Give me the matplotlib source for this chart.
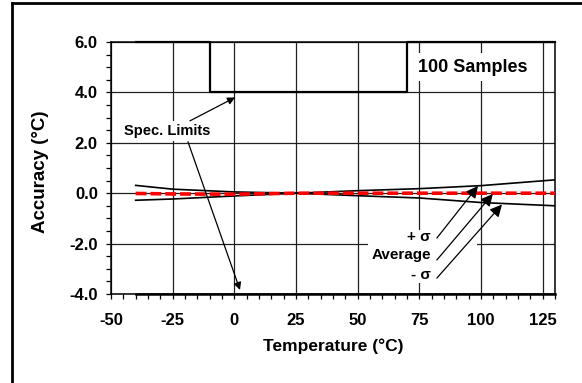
import matplotlib
matplotlib.use("Agg")
import matplotlib.pyplot as plt
from matplotlib.lines import Line2D
from matplotlib.patches import Rectangle
from matplotlib.ticker import MultipleLocator

plt.rcParams['font.family'] = ['Liberation Sans', 'DejaVu Sans']
plt.rcParams['font.weight'] = 'bold'
plt.rcParams['axes.unicode_minus'] = False

# accuracy across temperature, 100 samples
temp = [-40, -25, 0, 25, 50, 75, 100, 130]
plus_sigma = [0.31, 0.16, 0.05, 0.0, 0.10, 0.18, 0.30, 0.53]
average = [-0.01, -0.03, -0.04, 0.0, 0.0, 0.0, 0.0, 0.0]
minus_sigma = [-0.28, -0.23, -0.11, 0.0, -0.10, -0.19, -0.37, -0.50]

# spec limit envelope
upper_temp = [-40, -10, -10, 70, 70, 130]
upper_limit = [6, 6, 4, 4, 6, 6]
lower_temp = [-40, 130]
lower_limit = [-4, -4]

fig = plt.figure(figsize=(5.82, 3.83), dpi=100)
ax = fig.add_axes([111 / 582, 1 - 294 / 383, 444 / 582, 252 / 383])

ax.set_xlim(-50, 130)
ax.set_ylim(-4, 6)
ax.xaxis.set_major_locator(MultipleLocator(25))
ax.xaxis.set_minor_locator(MultipleLocator(5))
ax.yaxis.set_major_locator(MultipleLocator(2))
ax.yaxis.set_minor_locator(MultipleLocator(0.5))
ax.yaxis.set_major_formatter(plt.FormatStrFormatter('%.1f'))
ax.set_xticks([-50, -25, 0, 25, 50, 75, 100, 125])
ax.grid(True, which='major', color='#202020', linewidth=0.9)
ax.set_axisbelow(True)
ax.tick_params(which='both', direction='out', length=3.5, width=0.9, color='black')
ax.tick_params(axis='y', pad=6, labelsize=12)
ax.tick_params(axis='x', pad=10.5, labelsize=12)
for s in ax.spines.values():
    s.set_linewidth(1.1)
    s.set_color('black')

ax.plot(upper_temp, upper_limit, color='black', linewidth=1.6, clip_on=False, zorder=4)
ax.plot(lower_temp, lower_limit, color='black', linewidth=1.8, clip_on=False, zorder=4)

ax.plot(temp, plus_sigma, color='black', linewidth=1.2, zorder=5)
ax.plot(temp, minus_sigma, color='black', linewidth=1.2, zorder=5)
ax.plot(temp, average, color='#ff0000', linewidth=2.6, linestyle=(0, (3, 1.1)), zorder=6)

# white panel behind the curve labels
ax.add_patch(Rectangle((54.2, -3.56), 44.2, 2.1, facecolor='white', edgecolor='none', zorder=2))

ax.text(79.7, -1.74, '+ σ', ha='right', va='center', fontsize=11, zorder=7)
ax.text(79.7, -2.45, 'Average', ha='right', va='center', fontsize=11, zorder=7)
ax.text(79.7, -3.25, '- σ', ha='right', va='center', fontsize=11, zorder=7)

big_arrow = dict(arrowstyle='-|>', mutation_scale=18, color='black', lw=0.9, shrinkA=0, shrinkB=0)
ax.annotate('', xy=(98.8, 0.29), xytext=(82.1, -1.78), arrowprops=big_arrow, zorder=8)
ax.annotate('', xy=(104.8, -0.03), xytext=(82.1, -2.65), arrowprops=big_arrow, zorder=8)
ax.annotate('', xy=(108.5, -0.45), xytext=(82.1, -3.37), arrowprops=big_arrow, zorder=8)

ax.text(-27.1, 2.47, 'Spec. Limits', ha='center', va='center', fontsize=10.5, zorder=7,
        bbox=dict(boxstyle='square,pad=0.2', facecolor='white', edgecolor='none'))
small_arrow = dict(arrowstyle='-|>', mutation_scale=11, color='black', lw=0.9, shrinkA=0, shrinkB=0)
ax.annotate('', xy=(0.3, 3.8), xytext=(-18.0, 2.87), arrowprops=small_arrow, zorder=8)
ax.annotate('', xy=(2.3, -3.84), xytext=(-18.8, 2.04), arrowprops=small_arrow, zorder=8)

ax.text(96.5, 5.0, '100 Samples', ha='center', va='center', fontsize=13, zorder=7,
        bbox=dict(boxstyle='square,pad=0.3', facecolor='white', edgecolor='none'))

ax.set_xlabel('Temperature (°C)', fontsize=12.5, fontweight='bold')
ax.set_ylabel('Accuracy (°C)', fontsize=13.5, fontweight='bold')
ax.xaxis.set_label_coords(0.5, -0.175)
ax.yaxis.set_label_coords(-0.14, 0.484)

# outer frame (left and top edges)
fig.add_artist(Line2D([11.5 / 582, 11.5 / 582], [0, 1 - 3 / 383], transform=fig.transFigure,
                      color='black', linewidth=2))
fig.add_artist(Line2D([11.5 / 582, 1], [1 - 3 / 383, 1 - 3 / 383], transform=fig.transFigure,
                      color='black', linewidth=2))

fig.savefig('out.png', dpi=100)
